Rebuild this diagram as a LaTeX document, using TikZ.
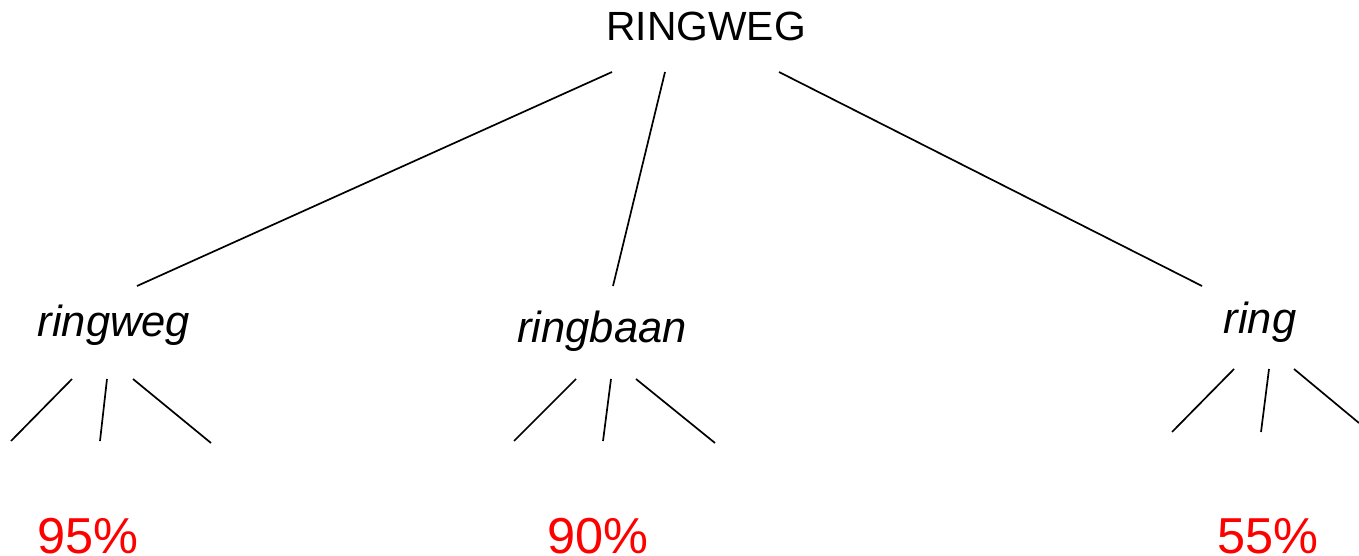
\documentclass[tikz,border=0pt]{standalone}
\usepackage{fontspec}
\setmainfont{Liberation Sans}
\begin{document}
\begin{tikzpicture}[x=1pt,y=-1pt,
  root/.style={font=\fontsize{40.8}{40.8}\selectfont, anchor=base, inner sep=0pt},
  term/.style={font=\fontsize{43.5}{43.5}\selectfont\itshape, anchor=base, inner sep=0pt},
  score/.style={font=\fontsize{50.5}{50.5}\selectfont, text=red, anchor=base, inner sep=0pt},
  branch/.style={line width=1.7pt, black}]
\useasboundingbox (0,0) rectangle (1359,556);

% labels
\node[root] (top) at (706,41) {RINGWEG};
\node[term] (t1) at (114,336) {ringweg};
\node[term] (t2) at (602,342) {ringbaan};
\node[term] (t3) at (1260,333) {ring};
\node[score] (s1) at (88,553) {95\%};
\node[score] (s2) at (598,553) {90\%};
\node[score] (s3) at (1268,553) {55\%};

% end points of the branches
\coordinate (top-l) at (612,72);
\coordinate (top-m) at (665,72);
\coordinate (top-r) at (779,72);
\coordinate (t1-in) at (137,286);
\coordinate (t2-in) at (613,286);
\coordinate (t3-in) at (1202,286);

\draw[branch] (top-l) -- (t1-in);
\draw[branch] (top-m) -- (t2-in);
\draw[branch] (top-r) -- (t3-in);

% fan below each term
\foreach \n/\ax/\bx/\cx/\ya/\dx/\ex/\fx/\yb/\yc in
  {t1/72/107/133/379/11/100/211/441/443,
   t2/576/611/636/379/514/603/715/441/443,
   t3/1234/1269/1294/369/1172/1261/1359/432/423}{
  \coordinate (\n-a) at (\ax,\ya);
  \coordinate (\n-b) at (\bx,\ya);
  \coordinate (\n-c) at (\cx,\ya);
  \coordinate (\n-d) at (\dx,\yb);
  \coordinate (\n-e) at (\ex,\yb);
  \coordinate (\n-f) at (\fx,\yc);
  \draw[branch] (\n-a) -- (\n-d);
  \draw[branch] (\n-b) -- (\n-e);
  \draw[branch] (\n-c) -- (\n-f);
}
\end{tikzpicture}
\end{document}
